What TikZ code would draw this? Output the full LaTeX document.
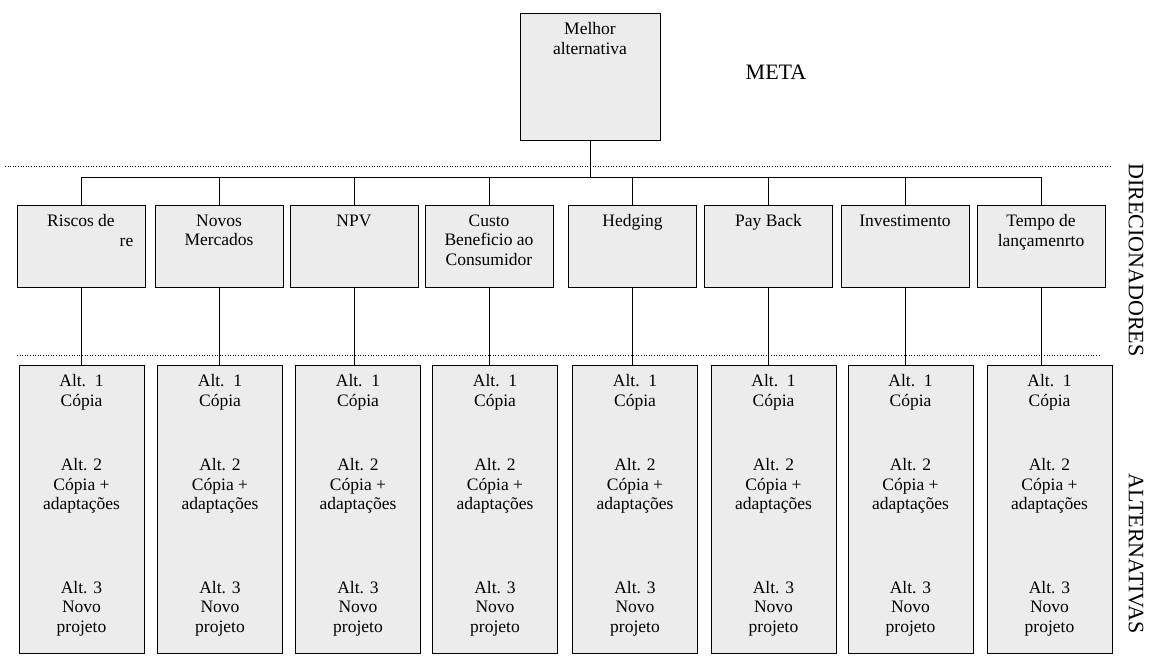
\documentclass[tikz,border=0pt]{standalone}
\usepackage{fontspec}
\setmainfont{Liberation Serif}
\usepackage{tikz}
\usetikzlibrary{positioning}

\begin{document}
\begin{tikzpicture}[x=1pt, y=-1pt,
  box/.style={draw, fill=gray!15, line width=0.8pt, inner sep=0pt},
  goalbox/.style={box, minimum width=140pt, minimum height=127pt},
  drv/.style={box, minimum width=128pt, minimum height=82pt},
  alt/.style={box, minimum width=125pt, minimum height=288pt},
  txt/.style={anchor=north, yshift=-8pt, inner sep=2pt, align=center, font=\fontsize{17.5}{19.5}\selectfont},
  sep/.style={dotted, line width=0.6pt},
  lbl/.style={font=\fontsize{22}{24}\selectfont}
]
  \useasboundingbox (0,0) rectangle (1152,666);
  % meta
  \node[goalbox, label={[txt]north:{Melhor\\alternativa}}] (goal) at (590,76.5) {};
  \node[lbl] (meta) at (776,72) {META};
  % direcionadores
  \node[drv, label={[txt]north:{Riscos de\\\hspace*{5.2em}re}}] (d1) at (81,246) {};
  \node[drv, label={[txt]north:{Novos\\Mercados}}] (d2) at (219,246) {};
  \node[drv, label={[txt]north:{NPV}}] (d3) at (354,246) {};
  \node[drv, label={[txt]north:{Custo\\Beneficio ao\\Consumidor}}] (d4) at (489,246) {};
  \node[drv, label={[txt]north:{Hedging}}] (d5) at (632.5,246) {};
  \node[drv, label={[txt]north:{Pay Back}}] (d6) at (768.5,246) {};
  \node[drv, label={[txt]north:{Investimento}}] (d7) at (905,246) {};
  \node[drv, label={[txt]north:{Tempo de\\lançamenrto}}] (d8) at (1041,246) {};
  % alternativas
  \newcommand{\alttext}{Alt.~~1\\Cópia\\[45pt]Alt. 2\\Cópia +\\adaptações\\[64pt]Alt. 3\\Novo\\projeto}
  \node[alt, label={[txt]north:{\alttext}}] (a1) at (81.5,509) {};
  \node[alt, label={[txt]north:{\alttext}}] (a2) at (220,509) {};
  \node[alt, label={[txt]north:{\alttext}}] (a3) at (358,509) {};
  \node[alt, label={[txt]north:{\alttext}}] (a4) at (495,509) {};
  \node[alt, label={[txt]north:{\alttext}}] (a5) at (635,509) {};
  \node[alt, label={[txt]north:{\alttext}}] (a6) at (773.5,509) {};
  \node[alt, label={[txt]north:{\alttext}}] (a7) at (910.5,509) {};
  \node[alt, label={[txt]north:{\alttext}}] (a8) at (1049.5,509) {};
  % separadores
  \draw[sep] (5,166) -- (1112,166);
  \draw[sep] (17,355) -- (1100,355);
  \node[lbl, rotate=-90] (dirs) at (1136,260) {DIRECIONADORES};
  \node[lbl, rotate=-90] (alts) at (1136,554) {ALTERNATIVAS};
  % ligacoes
  \draw (goal.south) -- ++(0,37) coordinate (hub);
  \draw (d1.north) |- (hub) -| (d8.north);
  \draw (d2.north) -- (d2.north |- hub);
  \draw (d3.north) -- (d3.north |- hub);
  \draw (d4.north) -- (d4.north |- hub);
  \draw (d5.north) -- (d5.north |- hub);
  \draw (d6.north) -- (d6.north |- hub);
  \draw (d7.north) -- (d7.north |- hub);
  \draw (d1.south) -- (d1.south |- a1.north);
  \draw (d2.south) -- (d2.south |- a2.north);
  \draw (d3.south) -- (d3.south |- a3.north);
  \draw (d4.south) -- (d4.south |- a4.north);
  \draw (d5.south) -- (d5.south |- a5.north);
  \draw (d6.south) -- (d6.south |- a6.north);
  \draw (d7.south) -- (d7.south |- a7.north);
  \draw (d8.south) -- (d8.south |- a8.north);
\end{tikzpicture}
\end{document}
